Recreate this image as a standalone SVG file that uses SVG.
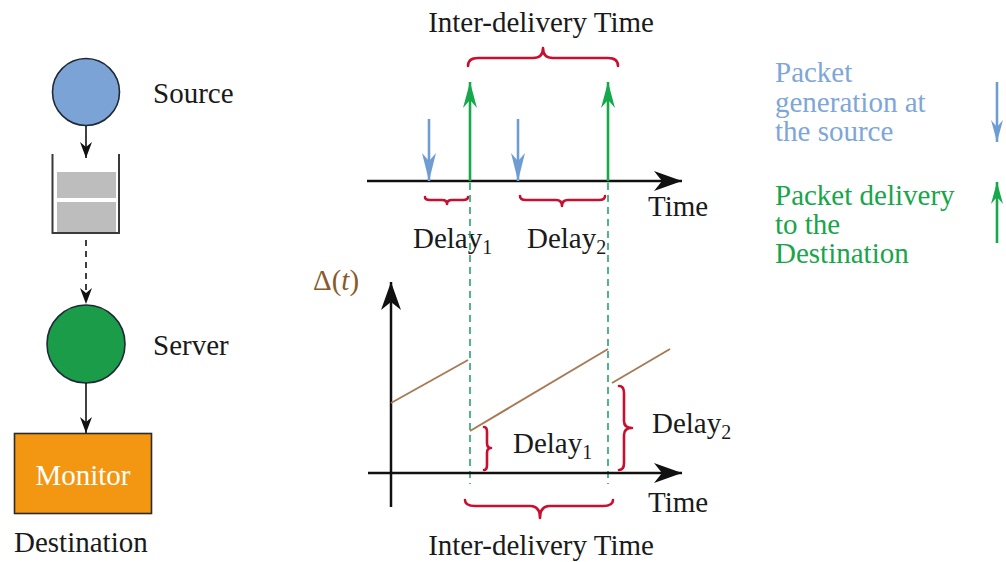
<svg xmlns="http://www.w3.org/2000/svg" width="1006" height="562" viewBox="0 0 1006 562">
  <defs>
    <style>
      .txt { font-family: "Liberation Serif", "Times New Roman", serif; font-size: 29px; fill: #1a1a1a; }
      .sub { font-size: 20px; }
      .blue-t { fill: #7ea6d8; }
      .green-t { fill: #19a54a; }
      .ax { stroke: #111; stroke-width: 2.5; fill: none; }
      .link { stroke: #111; stroke-width: 1.6; fill: none; }
      .brace { stroke: #c8102e; stroke-width: 2.6; fill: none; stroke-linecap: round; stroke-linejoin: round; }
      .saw { stroke: #a77b56; stroke-width: 2; fill: none; }
      .guide { stroke: #27a36e; stroke-width: 1.6; stroke-dasharray: 7 5; fill: none; }
      .gen { stroke: #6f9dd3; stroke-width: 2.6; fill: none; }
      .dlv { stroke: #16a94b; stroke-width: 2.6; fill: none; }
    </style>
    <marker id="ahAxis" markerUnits="userSpaceOnUse" viewBox="-29 -11 31 22" refX="0" refY="0" markerWidth="31" markerHeight="22" orient="auto">
      <path d="M0,0 L-28,-10 L-20,0 L-28,10 Z" fill="#111"/>
    </marker>
    <marker id="ahSmall" markerUnits="userSpaceOnUse" viewBox="-17 -7 19 14" refX="0" refY="0" markerWidth="19" markerHeight="14" orient="auto">
      <path d="M0,0 L-16,-6 L-11,0 L-16,6 Z" fill="#111"/>
    </marker>
    <marker id="ahBlue" markerUnits="userSpaceOnUse" viewBox="-29 -8 31 16" refX="0" refY="0" markerWidth="31" markerHeight="16" orient="auto">
      <path d="M0,0 L-28,-7 L-20,0 L-28,7 Z" fill="#6f9dd3"/>
    </marker>
    <marker id="ahGreen" markerUnits="userSpaceOnUse" viewBox="-27 -8 29 16" refX="0" refY="0" markerWidth="29" markerHeight="16" orient="auto">
      <path d="M0,0 L-26,-7 L-18,0 L-26,7 Z" fill="#16a94b"/>
    </marker>
    <marker id="ahBlueS" markerUnits="userSpaceOnUse" viewBox="-23 -7 25 14" refX="0" refY="0" markerWidth="25" markerHeight="14" orient="auto">
      <path d="M0,0 L-22,-6 L-15,0 L-22,6 Z" fill="#6f9dd3"/>
    </marker>
    <marker id="ahGreenS" markerUnits="userSpaceOnUse" viewBox="-23 -7 25 14" refX="0" refY="0" markerWidth="25" markerHeight="14" orient="auto">
      <path d="M0,0 L-22,-6 L-15,0 L-22,6 Z" fill="#16a94b"/>
    </marker>
  </defs>

  <rect width="1006" height="562" fill="#ffffff"/>

  <!-- System chain: source, queue, server, monitor -->
  <g id="source">
    <circle cx="86" cy="92" r="33.5" fill="#7ba3d6" stroke="#1f2a36" stroke-width="1.6"/>
    <text class="txt" x="153" y="103">Source</text>
  </g>
  <g id="queue">
    <rect x="57" y="172" width="59" height="26" fill="#bdbdbd"/>
    <rect x="57" y="202" width="59" height="30" fill="#bdbdbd"/>
    <path d="M52.5,154 L52.5,233 L119,233 L119,154" fill="none" stroke="#3a3a3a" stroke-width="2"/>
  </g>
  <g id="server">
    <circle cx="86" cy="344" r="39" fill="#1a9c49" stroke="#1f2a36" stroke-width="1.6"/>
    <text class="txt" x="153" y="355">Server</text>
  </g>
  <g id="monitor">
    <rect x="14.5" y="433.5" width="137" height="80" fill="#f39712" stroke="#2b2b2b" stroke-width="1.6"/>
    <text class="txt" x="83" y="485" text-anchor="middle" fill="#ffffff" style="fill:#ffffff">Monitor</text>
    <text class="txt" x="14" y="552">Destination</text>
  </g>

  <g id="chain-links">
    <line class="link" x1="86" y1="126" x2="86" y2="158" marker-end="url(#ahSmall)"/>
    <line class="link" x1="86" y1="240" x2="86" y2="304" stroke-dasharray="6 5" marker-end="url(#ahSmall)"/>
    <line class="link" x1="86" y1="383" x2="86" y2="433" marker-end="url(#ahSmall)"/>
  </g>

  <!-- Upper timeline -->
  <g id="timeline-top">
    <line class="ax" x1="367" y1="181" x2="682" y2="181" marker-end="url(#ahAxis)"/>
    <text class="txt" x="648" y="216">Time</text>
    <line class="gen" x1="429" y1="119" x2="429" y2="181" marker-end="url(#ahBlue)"/>
    <line class="gen" x1="518" y1="119" x2="518" y2="181" marker-end="url(#ahBlue)"/>
    <line class="dlv" x1="470" y1="181" x2="470" y2="82" marker-end="url(#ahGreen)"/>
    <line class="dlv" x1="608" y1="181" x2="608" y2="82" marker-end="url(#ahGreen)"/>
    <path class="brace" d="M468,66 Q468,58 478,58 L533,58 Q543,58 543,48 Q543,58 553,58 L608,58 Q618,58 618,66"/>
    <text class="txt" x="541" y="32" text-anchor="middle">Inter-delivery Time</text>
    <path class="brace" d="M425,197 Q425,200 430,200 L442,200 Q447,200 447,204 Q447,200 452,200 L463,200 Q468,200 468,197"/>
    <path class="brace" d="M520,196 Q520,200 526,200 L556,200 Q562,200 562,206 Q562,200 568,200 L599,200 Q605,200 605,196"/>
    <text class="txt" x="413" y="248">Delay<tspan class="sub" dy="6">1</tspan></text>
    <text class="txt" x="527" y="248">Delay<tspan class="sub" dy="6">2</tspan></text>
  </g>

  <!-- Guides from delivery instants to the age plot -->
  <g id="guides">
    <line class="guide" x1="470" y1="183" x2="470" y2="484"/>
    <line class="guide" x1="608" y1="183" x2="608" y2="484"/>
  </g>

  <!-- Age of information plot -->
  <g id="age-plot">
    <line class="ax" x1="391" y1="507" x2="391" y2="282" marker-end="url(#ahAxis)"/>
    <line class="ax" x1="368" y1="473" x2="682" y2="473" marker-end="url(#ahAxis)"/>
    <text class="txt" x="313" y="290" style="fill:#8b5a2b">Δ(<tspan font-style="italic">t</tspan>)</text>
    <line class="saw" x1="391" y1="403" x2="468" y2="360"/>
    <line class="saw" x1="470" y1="431" x2="608" y2="349"/>
    <line class="saw" x1="612" y1="383" x2="670" y2="349"/>
    <path class="brace" d="M484,427 Q487,427 487,432 L487,443 Q487,448 491,448 Q487,448 487,453 L487,465 Q487,470 484,470"/>
    <path class="brace" d="M619,386 Q624,386 624,393 L624,421 Q624,428 632,428 Q624,428 624,435 L624,463 Q624,470 619,470"/>
    <text class="txt" x="513" y="453">Delay<tspan class="sub" dy="6">1</tspan></text>
    <text class="txt" x="652" y="433">Delay<tspan class="sub" dy="6">2</tspan></text>
    <text class="txt" x="648" y="512">Time</text>
    <path class="brace" d="M465,500 Q465,506 475,506 L530,506 Q540,506 540,518 Q540,506 550,506 L603,506 Q613,506 613,500"/>
    <text class="txt" x="541" y="555" text-anchor="middle">Inter-delivery Time</text>
  </g>

  <!-- Legend -->
  <g id="legend-generation">
    <text class="txt blue-t" x="775" y="82">Packet</text>
    <text class="txt blue-t" x="775" y="112">generation at</text>
    <text class="txt blue-t" x="775" y="141">the source</text>
    <line class="gen" x1="997" y1="82" x2="997" y2="142" marker-end="url(#ahBlueS)"/>
  </g>
  <g id="legend-delivery">
    <text class="txt green-t" x="775" y="205">Packet delivery</text>
    <text class="txt green-t" x="775" y="234">to the</text>
    <text class="txt green-t" x="775" y="263">Destination</text>
    <line class="dlv" x1="997" y1="243" x2="997" y2="182" marker-end="url(#ahGreenS)"/>
  </g>
</svg>
